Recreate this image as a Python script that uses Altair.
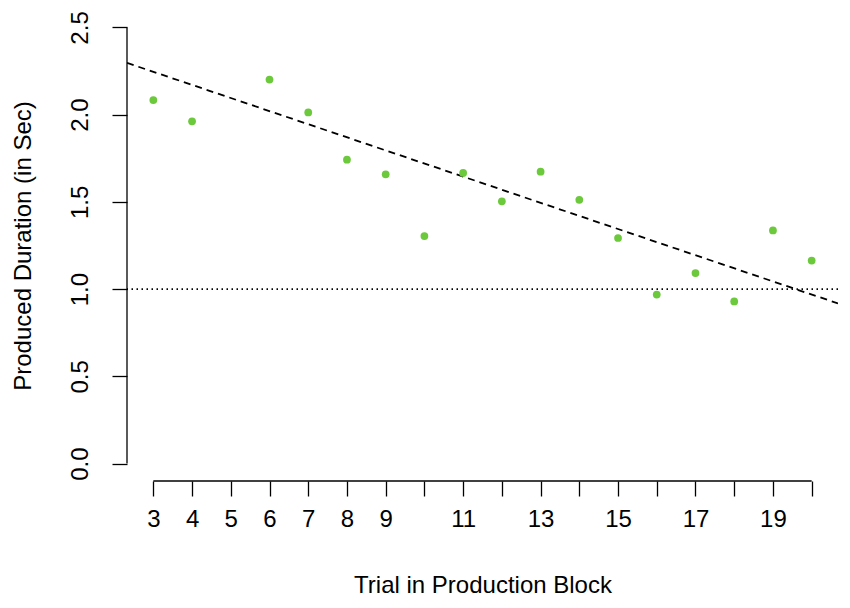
import altair as alt
import pandas as pd

# data
trials = [3, 4, 6, 7, 8, 9, 10, 11, 12, 13, 14, 15, 16, 17, 18, 19, 20]
durations = [2.084, 1.962, 2.201, 2.013, 1.742, 1.658, 1.304, 1.666, 1.503,
             1.673, 1.512, 1.293, 0.969, 1.092, 0.929, 1.336, 1.164]
x_ticks = list(range(3, 21))
x_labels = [3, 4, 5, 6, 7, 8, 9, 11, 13, 15, 17, 19]
y_ticks = [0.0, 0.5, 1.0, 1.5, 2.0, 2.5]
fit_intercept = 2.471
fit_slope = -0.0751
reference_level = 1.0

x_dom = [2.32, 20.68]
y_dom = [-0.1, 2.6]

FONT = "Liberation Sans"
FS = 24

pts = pd.DataFrame({"trial": trials, "dur": durations})
fit = pd.DataFrame({"trial": x_dom,
                    "dur": [fit_intercept + fit_slope * v for v in x_dom]})
ref = pd.DataFrame({"y": [reference_level]})
xline = pd.DataFrame({"x": [min(x_ticks)], "x2": [max(x_ticks)], "y": [y_dom[0]]})
yline = pd.DataFrame({"y": [min(y_ticks)], "y2": [max(y_ticks)], "x": [x_dom[0]]})

xs = alt.Scale(domain=x_dom, nice=False, zero=False)
ys = alt.Scale(domain=y_dom, nice=False, zero=False)

label_expr = "indexof([" + ",".join(str(v) for v in x_labels) + "], datum.value) >= 0 ? datum.value : ''"

x_axis = alt.Axis(values=x_ticks, domain=False, grid=False, tickSize=15, tickColor="black",
                  tickWidth=1.3, labelExpr=label_expr, labelFontSize=FS, labelFont=FONT,
                  labelColor="black", labelPadding=11, title="Trial in Production Block",
                  titleFont=FONT, titleFontSize=FS, titleFontWeight="normal",
                  titleColor="black", titlePadding=42, labelFlush=False, labelOverlap=False)
y_axis = alt.Axis(values=y_ticks, domain=False, grid=False, tickSize=15, tickColor="black",
                  tickWidth=1.3, format=".1f", labelAngle=270, labelAlign="center",
                  labelBaseline="bottom", labelFontSize=FS, labelFont=FONT, labelColor="black",
                  labelPadding=20, title="Produced Duration (in Sec)", titleFont=FONT,
                  titleFontSize=FS, titleFontWeight="normal", titleColor="black",
                  titlePadding=33, labelFlush=False, labelOverlap=False)

points = alt.Chart(pts).mark_circle(size=60, color="#6BC93B", opacity=1).encode(
    x=alt.X("trial:Q", scale=xs, axis=x_axis),
    y=alt.Y("dur:Q", scale=ys, axis=y_axis),
)

fit_line = alt.Chart(fit).mark_line(color="black", strokeDash=[7, 5], strokeWidth=1.8, clip=True).encode(
    x=alt.X("trial:Q", scale=xs),
    y=alt.Y("dur:Q", scale=ys),
)

ref_line = alt.Chart(ref).mark_rule(color="black", strokeDash=[1.5, 3.5], strokeWidth=1.6).encode(
    y=alt.Y("y:Q", scale=ys),
)

x_dom_line = alt.Chart(xline).mark_rule(color="black", strokeWidth=1.3).encode(
    x=alt.X("x:Q", scale=xs), x2="x2:Q", y=alt.Y("y:Q", scale=ys),
)
y_dom_line = alt.Chart(yline).mark_rule(color="black", strokeWidth=1.3).encode(
    y=alt.Y("y:Q", scale=ys), y2="y2:Q", x=alt.X("x:Q", scale=xs),
)

chart = alt.layer(ref_line, fit_line, points, x_dom_line, y_dom_line).properties(
    width=711, height=471,
    autosize=alt.AutoSizeParams(type="none"),
    padding={"left": 119, "top": 2, "right": 4, "bottom": 122},
    background="white",
).configure_view(stroke=None)

chart.save("out.html", embed_options={"renderer": "svg", "actions": False})
